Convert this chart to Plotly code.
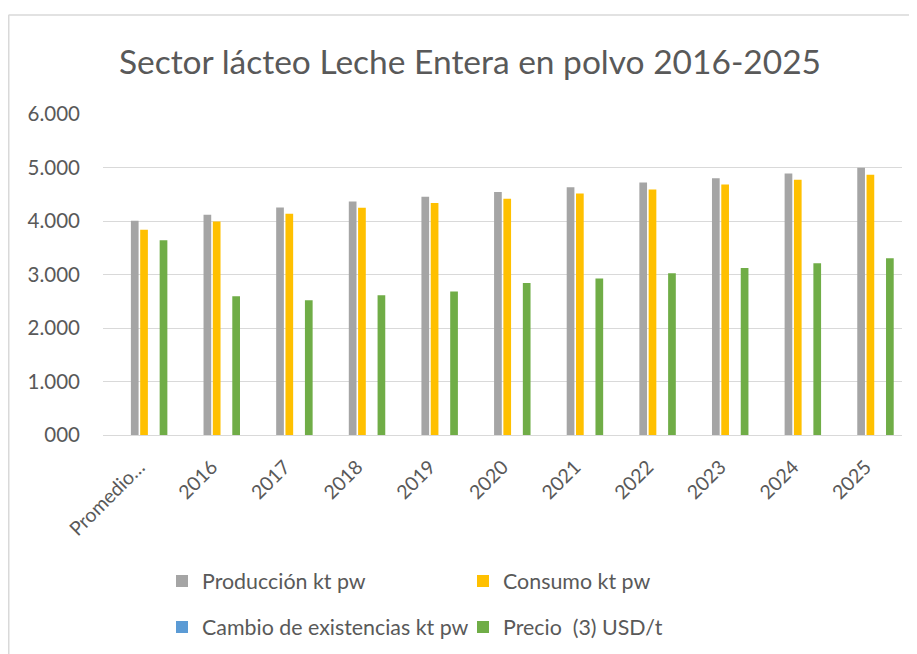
import plotly.graph_objects as go

categories = ["Promedio…", "2016", "2017", "2018", "2019", "2020",
              "2021", "2022", "2023", "2024", "2025"]
produccion = [4005, 4117, 4254, 4366, 4453, 4540, 4633, 4720, 4801, 4888, 4994]
consumo = [3837, 3992, 4136, 4248, 4335, 4416, 4515, 4590, 4683, 4770, 4864]
cambio_existencias = [0, 0, 0, 0, 0, 0, 0, 0, 0, 0, 0]
precio = [3638, 2593, 2518, 2612, 2681, 2842, 2923, 3022, 3122, 3209, 3302]

y_tickvals = [0, 1000, 2000, 3000, 4000, 5000, 6000]
y_ticktext = ["000", "1.000", "2.000", "3.000", "4.000", "5.000", "6.000"]

# page body has an 8px margin; all positions are expressed in page pixels
PAGE_OFF = 8
W, H = 917 - PAGE_OFF, 654 - PAGE_OFF
ML = 103 - PAGE_OFF
MT = 114 - PAGE_OFF
MR = W - (902 - PAGE_OFF)
MB = H - (435 - PAGE_OFF)
PW, PH = W - ML - MR, H - MT - MB

FONT = "Lato"
TXT = "#595959"
GRID = "#D9D9D9"

series = [
    ("Producción kt pw", produccion, "#A5A5A5", -0.116, "legend"),
    ("Consumo kt pw", consumo, "#FFC000", 0.012, "legend"),
    ("Cambio de existencias kt pw", cambio_existencias, "#5B9BD5", 0.146, "legend2"),
    ("Precio  (3) USD/t", precio, "#70AD47", 0.28, "legend2"),
]

fig = go.Figure()
for name, vals, color, off, lg in series:
    fig.add_trace(go.Bar(
        x=categories, y=vals, name=name,
        marker=dict(color=color, line=dict(width=0)),
        offset=off, width=0.106, legend=lg,
    ))


def fx(p):  # page px -> paper x
    return (p - PAGE_OFF - ML) / PW


def fy(p):  # page px -> paper y
    return (H - MB - (p - PAGE_OFF)) / PH


def cx(p):  # page px -> container x
    return (p - PAGE_OFF) / W


def cy(p):  # page px -> container y
    return 1 - (p - PAGE_OFF) / H


LEG_FONT = dict(size=21.4, color=TXT, family=FONT)

fig.update_layout(
    width=W, height=H,
    margin=dict(l=ML, r=MR, t=MT, b=MB),
    paper_bgcolor="white", plot_bgcolor="white",
    barmode="overlay",
    font=dict(family=FONT, color=TXT, size=19),
    title=dict(
        text="Sector lácteo Leche Entera en polvo 2016-2025",
        x=cx(470), xref="container", xanchor="center",
        y=cy(62), yref="container", yanchor="middle",
        font=dict(family=FONT, size=33.5, color=TXT),
    ),
    xaxis=dict(
        type="category", tickangle=-45, showgrid=False,
        showline=True, linecolor=GRID, linewidth=1,
        ticks="", ticklabelstandoff=12,
        tickfont=dict(size=19.5, color=TXT),
        range=[-0.5, 10.5],
    ),
    yaxis=dict(
        range=[0, 6000], tickvals=y_tickvals, ticktext=y_ticktext,
        showgrid=True, gridcolor=GRID, gridwidth=1,
        zeroline=False, showline=False, ticks="",
        ticklabelstandoff=22,
        tickfont=dict(size=20.5, color=TXT),
    ),
    legend=dict(
        orientation="h", xref="container", yref="container",
        x=cx(162), xanchor="left", y=cy(581), yanchor="middle",
        entrywidth=256, entrywidthmode="pixels",
        font=LEG_FONT, bgcolor="rgba(0,0,0,0)",
    ),
    legend2=dict(
        orientation="h", xref="container", yref="container",
        x=cx(162), xanchor="left", y=cy(627), yanchor="middle",
        entrywidth=256, entrywidthmode="pixels",
        font=LEG_FONT, bgcolor="rgba(0,0,0,0)",
    ),
    showlegend=True,
    shapes=[
        dict(type="line", xref="paper", yref="paper",
             x0=fx(8.5), x1=fx(930), y0=fy(15), y1=fy(15),
             line=dict(color=GRID, width=1.5), layer="below"),
        dict(type="line", xref="paper", yref="paper",
             x0=fx(8.75), x1=fx(8.75), y0=fy(15), y1=fy(670),
             line=dict(color=GRID, width=1.5), layer="below"),
    ],
)

fig.write_html("out.html")
